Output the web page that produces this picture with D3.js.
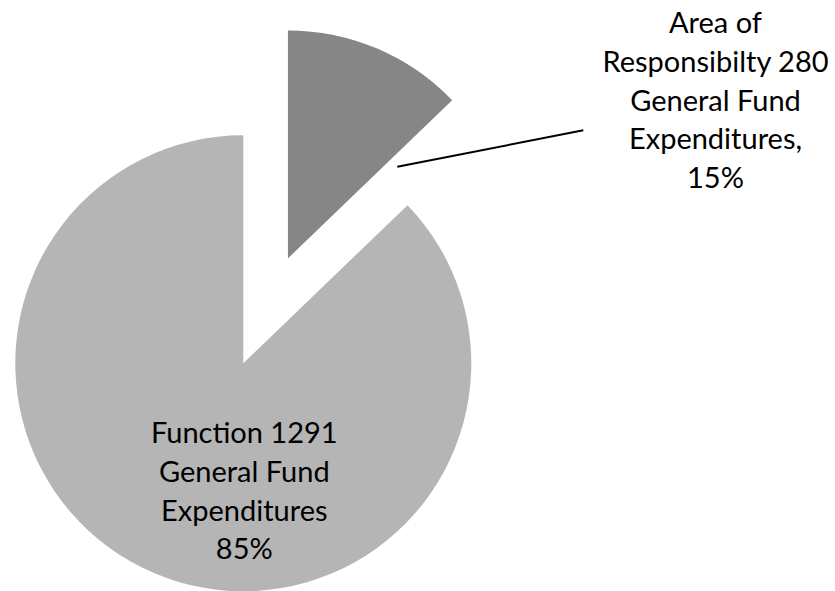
<!DOCTYPE html>
<html>
<head>
<meta charset="utf-8">
<script src="https://cdn.jsdelivr.net/npm/d3@7"></script>
<style>
  html, body { margin: 0; padding: 0; background: #fff; }
  svg { display: block; }
  text { font-family: Lato, "Open Sans", sans-serif; fill: #000; }
</style>
</head>
<body>
<svg id="chart" width="835" height="591"></svg>
<script>
// ---- data ----
const categories = ["Area of Responsibilty 280 General Fund Expenditures", "Function 1291 General Fund Expenditures"];
const values = [12.8, 87.2];            // slice sizes as drawn
const percentLabels = ["15%", "85%"];   // labels printed on the chart
const labelLines = [
  ["Area of", "Responsibilty 280", "General Fund", "Expenditures,", "15%"],
  ["Function 1291", "General Fund", "Expenditures", "85%"]
];
const colors = ["#868686", "#b5b5b5"];

// ---- layout ----
const W = 835, H = 591;
const cx = 243.3, cy = 363.3, R = 228;
const explode = [114, 0];
const fontSize = 29, lineH = 38.7;

const svg = d3.select("#chart");
const pie = d3.pie().sort(null).value(d => d)(values);
const arc = d3.arc().innerRadius(0).outerRadius(R);

const g = svg.append("g").attr("transform", `translate(${cx},${cy})`);

g.selectAll("path.slice")
  .data(pie)
  .join("path")
  .attr("class", "slice")
  .attr("fill", (d, i) => colors[i])
  .attr("transform", (d, i) => {
    const a = (d.startAngle + d.endAngle) / 2;
    return `translate(${Math.sin(a) * explode[i]},${-Math.cos(a) * explode[i]})`;
  })
  .attr("d", arc);

// leader line for the small slice
svg.append("line")
  .attr("x1", 397.3).attr("y1", 166.7)
  .attr("x2", 583.3).attr("y2", 130.3)
  .attr("stroke", "#000").attr("stroke-width", 2);

// labels
const labelPos = [
  { x: 715.5, y0: 33.3 },
  { x: 244.3, y0: 443.3 }
];
labelLines.forEach((lines, i) => {
  const t = svg.append("text")
    .attr("text-anchor", "middle")
    .attr("font-size", fontSize);
  lines.forEach((ln, j) => {
    t.append("tspan")
      .attr("x", labelPos[i].x)
      .attr("y", labelPos[i].y0 + j * lineH)
      .text(ln);
  });
});
</script>
</body>
</html>
